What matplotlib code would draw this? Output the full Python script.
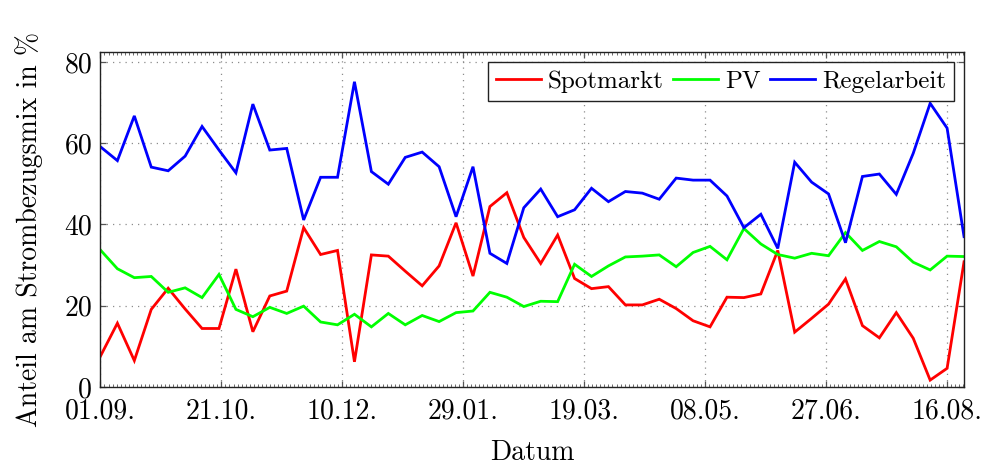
import matplotlib
matplotlib.use("Agg")
import matplotlib.pyplot as plt
from matplotlib.ticker import AutoMinorLocator
import pandas as pd

plt.rcParams["font.family"] = ["cmr10", "DejaVu Serif"]
plt.rcParams["mathtext.fontset"] = "cm"
plt.rcParams["axes.formatter.use_mathtext"] = True

# weekly sampling dates
start_date = "2019-09-01"
n_weeks = 52
dates = pd.date_range(start_date, periods=n_weeks, freq="7D")

# share of electricity procurement mix in percent
spotmarkt = [7.6, 15.7, 6.5, 19.1, 24.3, 19.2, 14.4, 14.4, 29.0, 13.6,
             22.4, 23.6, 39.2, 32.6, 33.6, 6.2, 32.5, 32.2, 28.5, 24.9,
             29.8, 40.4, 27.3, 44.4, 47.8, 36.8, 30.4, 37.4, 26.7, 24.2,
             24.7, 20.2, 20.2, 21.6, 19.3, 16.3, 14.8, 22.1, 22.0, 22.9,
             33.6, 13.5, 16.9, 20.4, 26.6, 15.1, 12.1, 18.3, 12.0, 1.7,
             4.6, 30.8]
pv = [33.7, 29.1, 26.9, 27.2, 23.3, 24.4, 22.0, 27.7, 19.1, 17.3,
      19.6, 18.1, 19.9, 16.0, 15.3, 17.9, 14.8, 18.1, 15.3, 17.6,
      16.1, 18.3, 18.7, 23.3, 22.1, 19.8, 21.1, 21.0, 30.2, 27.2,
      29.8, 32.0, 32.2, 32.5, 29.6, 33.1, 34.6, 31.3, 39.0, 35.2,
      32.6, 31.7, 32.9, 32.3, 38.0, 33.6, 35.8, 34.5, 30.7, 28.8,
      32.2, 32.1]
regelarbeit = [59.1, 55.7, 66.7, 54.1, 53.2, 56.8, 64.1, 58.3, 52.7, 69.6,
               58.3, 58.7, 41.1, 51.6, 51.6, 75.1, 53.0, 49.9, 56.5, 57.8,
               54.2, 41.9, 54.2, 32.9, 30.4, 44.1, 48.7, 41.9, 43.6, 48.9,
               45.6, 48.1, 47.7, 46.2, 51.4, 50.9, 50.9, 47.0, 39.2, 42.5,
               34.1, 55.3, 50.4, 47.5, 35.5, 51.8, 52.4, 47.4, 57.5, 69.8,
               63.7, 37.0]

series_names = ["Spotmarkt", "PV", "Regelarbeit"]
series_colors = ["#ff0000", "#00ff00", "#0000ff"]

x_tick_dates = pd.date_range(start_date, periods=8, freq="50D")
x_tick_labels = ["01.09.", "21.10.", "10.12.", "29.01.", "19.03.",
                 "08.05.", "27.06.", "16.08."]
y_ticks = [0, 20, 40, 60, 80]

fig = plt.figure(figsize=(9.83, 4.65), dpi=100)
ax = fig.add_axes([0.1022, 0.1677, 0.8785, 0.7194])

for name, values, color in zip(series_names, [spotmarkt, pv, regelarbeit], series_colors):
    ax.plot(dates, values, color=color, lw=2.0, label=name, solid_joinstyle="miter")

ax.set_xlim(dates[0], dates[-1])
ax.set_ylim(0, 82.3)

ax.set_xticks(x_tick_dates)
ax.set_xticklabels(x_tick_labels)
ax.set_yticks(y_ticks)
ax.set_yticklabels([str(v) for v in y_ticks])
ax.xaxis.set_minor_locator(AutoMinorLocator(30))

ax.grid(True, which="major", color="#8c8c8c", linestyle=(0, (1, 4)), lw=0.9)
ax.tick_params(which="major", direction="in", length=4, width=0.9, color="#555555",
               top=True, right=True, labelsize=20)
ax.tick_params(axis="x", which="major", pad=8)
ax.tick_params(axis="y", which="major", pad=6)
ax.tick_params(which="minor", direction="in", length=2, width=0.6, color="#555555",
               top=True, bottom=True, left=False, right=False)
for sp in ax.spines.values():
    sp.set_linewidth(1.0)
    sp.set_color("#222222")

ax.set_xlabel("Datum", fontsize=20)
ax.set_ylabel("Anteil am Strombezugsmix in %", fontsize=20)
ax.xaxis.set_label_coords(0.5, -0.158)
ax.yaxis.set_label_coords(-0.066, 0.47)

leg = ax.legend(loc="upper right", ncol=3, fontsize=18, frameon=True, fancybox=False,
                edgecolor="#222222", framealpha=1, handlelength=1.8, handletextpad=0.3,
                columnspacing=0.35, borderpad=0.32, borderaxespad=0.4)
leg.get_frame().set_linewidth(1.0)

fig.savefig("out.png", dpi=100)
